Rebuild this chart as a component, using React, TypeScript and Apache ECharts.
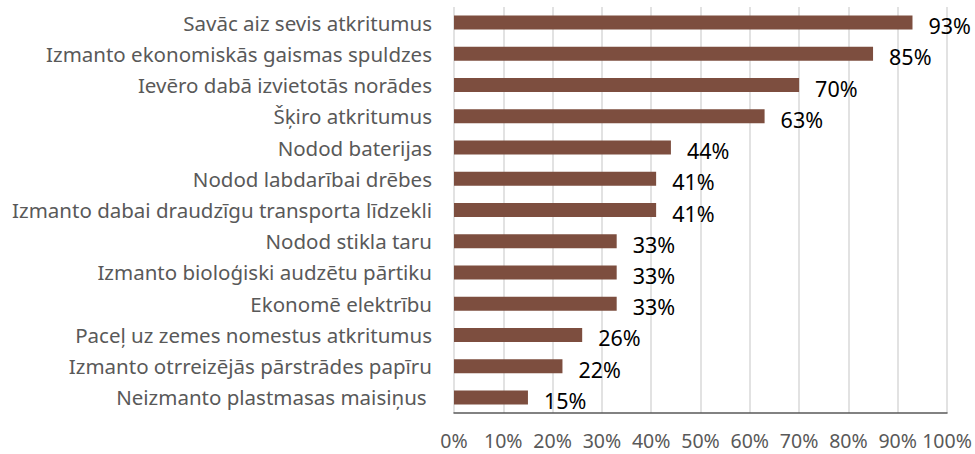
import React, { useEffect, useRef } from "react";
import * as echarts from "echarts";

const categories = [
  "Savāc aiz sevis atkritumus",
  "Izmanto ekonomiskās gaismas spuldzes",
  "Ievēro dabā izvietotās norādes",
  "Šķiro atkritumus",
  "Nodod baterijas",
  "Nodod labdarībai drēbes",
  "Izmanto dabai draudzīgu transporta līdzekli",
  "Nodod stikla taru",
  "Izmanto bioloģiski audzētu pārtiku",
  "Ekonomē elektrību",
  "Paceļ uz zemes nomestus atkritumus",
  "Izmanto otrreizējās pārstrādes papīru",
  "Neizmanto plastmasas maisiņus ",
];
const values = [93, 85, 70, 63, 44, 41, 41, 33, 33, 33, 26, 22, 15];

export default function App() {
  const ref = useRef<HTMLDivElement>(null);
  useEffect(() => {
    if (!ref.current) return;
    const chart = echarts.init(ref.current, null, { renderer: "svg" });
    chart.setOption({
      animation: false,
      grid: { left: 454, right: 28, top: 7, bottom: 41, containLabel: false },
      xAxis: {
        type: "value",
        min: 0,
        max: 100,
        interval: 10,
        axisLabel: {
          formatter: "{value}%",
          color: "#595959",
          fontFamily: "Noto Sans",
          fontSize: 19.5,
          lineHeight: 19.5,
          margin: 18,
        },
        axisLine: { show: true, lineStyle: { color: "#595959", width: 1.5 } },
        axisTick: { show: false },
        splitLine: { show: true, lineStyle: { color: "#d9d9d9", width: 1.5 } },
      },
      yAxis: {
        type: "category",
        inverse: true,
        data: categories,
        axisLabel: {
          color: "#595959",
          fontFamily: "Noto Sans",
          fontSize: 20.5,
          margin: 22,
        },
        axisLine: { show: false },
        axisTick: { show: false },
        splitLine: { show: false },
      },
      series: [
        {
          type: "bar",
          data: values,
          barWidth: 14,
          itemStyle: { color: "#7D4E3F" },
          label: {
            show: true,
            position: "right",
            distance: 16,
            offset: [0, 3],
            formatter: "{c}%",
            color: "#000000",
            fontFamily: "Noto Sans",
            fontSize: 21.5,
          },
        },
      ],
    });
    return () => chart.dispose();
  }, []);
  return (
    <div
      ref={ref}
      style={{ position: "absolute", left: 0, top: 0, width: 975, height: 454 }}
    />
  );
}
